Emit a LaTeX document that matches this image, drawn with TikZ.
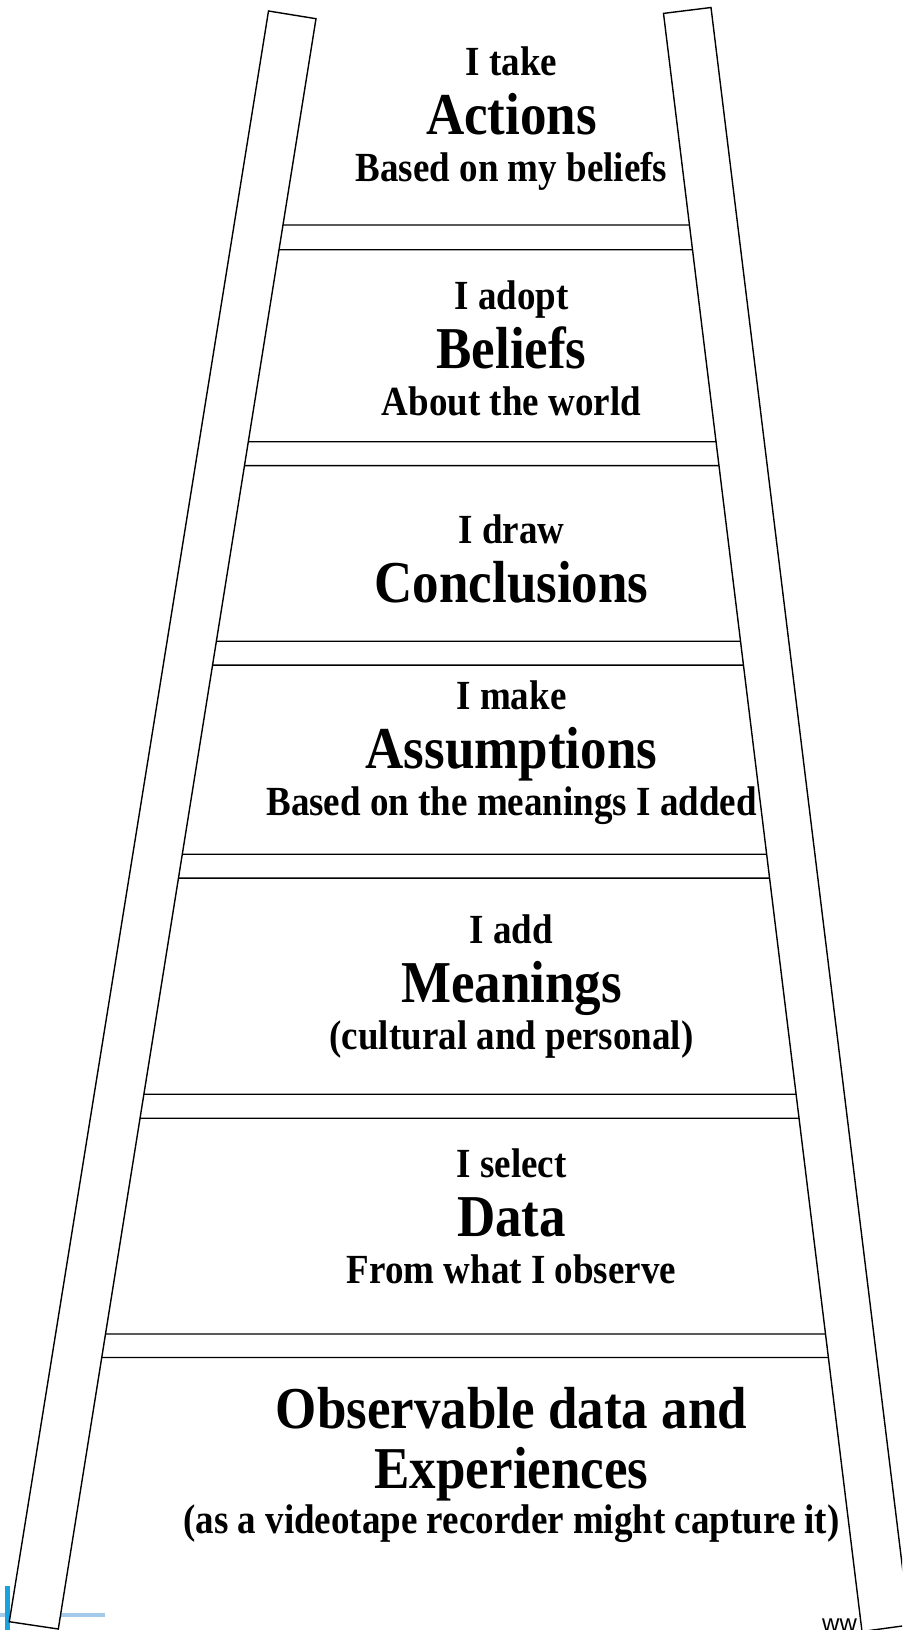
\documentclass[tikz,border=0pt]{standalone}
\usepackage{fontspec}
\usepackage{graphicx}
\setmainfont{Liberation Serif}
\newfontfamily\wwwfont{Liberation Sans}
\usetikzlibrary{calc}
\definecolor{logoblue}{RGB}{27,161,219}
\definecolor{logolight}{RGB}{163,201,235}
\newcommand{\vsq}[1]{\scalebox{1}[1.12]{#1}}
\begin{document}
\begin{tikzpicture}[x=1pt,y=-1pt,
  rail/.style={draw=black,fill=white,line width=1.4pt,line join=miter},
  rung/.style={draw=black,line width=1.3pt},
  small/.style={anchor=base,inner sep=0pt,font=\fontsize{37}{37}\selectfont\bfseries},
  big/.style={anchor=base,inner sep=0pt,font=\fontsize{53}{53}\selectfont\bfseries}]
\useasboundingbox (0,0) rectangle (902,1630);
\clip (0,0) rectangle (902,1630);
% logo fragment
\fill[logolight] (0,1613) rectangle (105,1617);
\fill[logoblue] (4.7,1586) rectangle (10,1630);
% url fragment
\node[anchor=base west,inner sep=0pt,font=\wwwfont\fontsize{24}{24}\selectfont] (www) at (822,1631.5) {ww};
% rails
\coordinate (lot) at (268.5,11);
\coordinate (lit) at (316,18.7);
\coordinate (lib) at (58.3,1629);
\coordinate (lob) at (9.3,1621.7);
\coordinate (rit) at (663.5,13.4);
\coordinate (rot) at (711,7.5);
\coordinate (rob) at (909.5,1625);
\coordinate (rib) at (862,1631.5);
\draw[rail] (lot) -- (lit) -- (lib) -- (lob) -- cycle;
\draw[rail] (rit) -- (rot) -- (rob) -- (rib) -- cycle;
% rungs
\foreach \y [count=\i] in {225,249.8,441.7,465.6,641.2,665.1,854.2,878.1,1094.3,1118.2,1334,1357.5} {
  \draw[rung] ($(lit)!{(\y-18.7)/1610.3}!(lib)$) coordinate (rl\i)
     -- ($(rit)!{(\y-13.4)/1618.1}!(rib)$) coordinate (rr\i);
}
% texts
\node[small] (t1a) at (511.5,75) {\vsq{I take}};
\node[big]   (t1b) at (511.5,134.7) {\vsq{Actions}};
\node[small] (t1c) at (511.5,181.3) {\vsq{Based on my beliefs}};
\node[small] (t2a) at (511.5,309) {\vsq{I adopt}};
\node[big]   (t2b) at (511.5,368.7) {\vsq{Beliefs}};
\node[small] (t2c) at (511.5,415) {\vsq{About the world}};
\node[small] (t3a) at (511.5,543) {\vsq{I draw}};
\node[big]   (t3b) at (511.5,602.7) {\vsq{Conclusions}};
\node[small] (t4a) at (511.5,709) {\vsq{I make}};
\node[big]   (t4b) at (511.5,768.7) {\vsq{Assumptions}};
\node[small] (t4c) at (511.5,815) {\vsq{Based on the meanings I added}};
\node[small] (t5a) at (511.5,943) {\vsq{I add}};
\node[big]   (t5b) at (511.5,1002.7) {\vsq{Meanings}};
\node[small] (t5c) at (511.5,1049) {\vsq{(cultural and personal)}};
\node[small] (t6a) at (511.5,1177) {\vsq{I select}};
\node[big]   (t6b) at (511.5,1236.7) {\vsq{Data}};
\node[small] (t6c) at (511.5,1283) {\vsq{From what I observe}};
\node[big]   (t7a) at (511.5,1428) {\vsq{Observable data and}};
\node[big]   (t7b) at (511.5,1488) {\vsq{Experiences}};
\node[small] (t7c) at (511.5,1533) {\vsq{(as a videotape recorder might capture it)}};
\end{tikzpicture}
\end{document}
